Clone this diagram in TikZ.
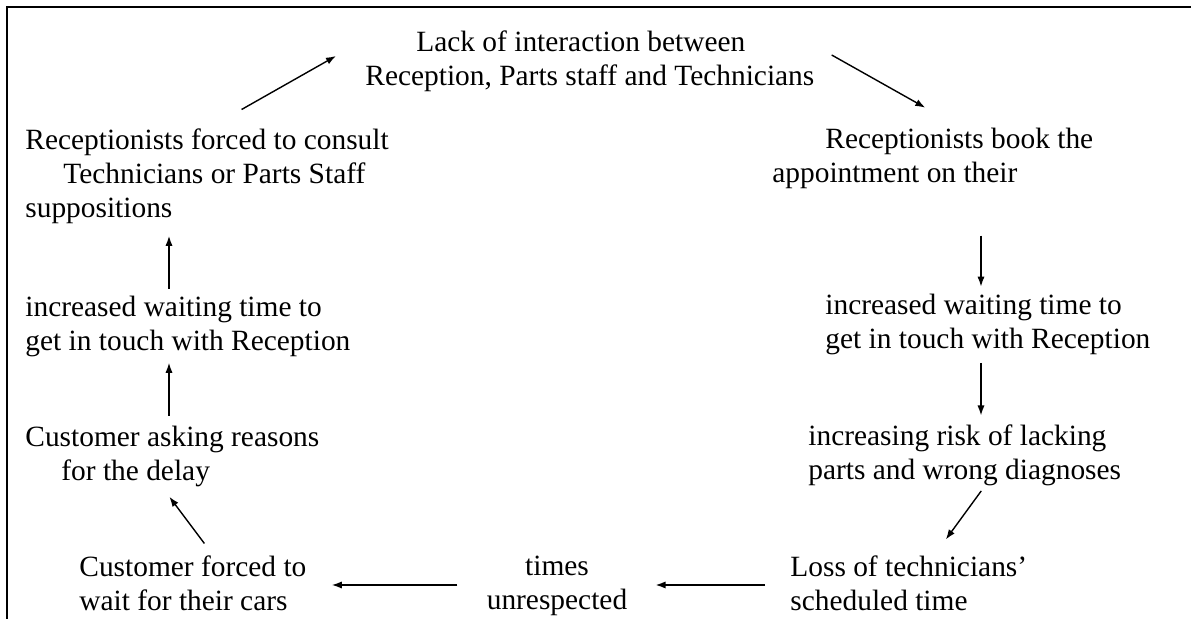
\documentclass[tikz,border=0pt]{standalone}
\usepackage{fontspec}
\setmainfont{Liberation Serif}
\usetikzlibrary{arrows.meta}
\begin{document}
\begin{tikzpicture}[x=0.5pt,y=-0.5pt,
  cause/.style={inner sep=0pt,align=left,font=\fontsize{14.7}{17}\selectfont},
  link/.style={line width=0.7pt,-{Latex[length=5pt,width=3.6pt]}}]
\useasboundingbox (0,0) rectangle (1191,619);
\draw[line width=1pt] (7,619) -- (7,7) -- (1191,7);
% the causes, clockwise from the top
\node[cause,anchor=west] (lack) at (365,61) {\hspace*{25.5pt}Lack of interaction between\\Reception, Parts staff and Technicians};
\node[cause,anchor=west] (book) at (772,158) {\hspace*{26.5pt}Receptionists book the\\appointment on their};
\node[cause,anchor=west] (waitR) at (825,324) {increased waiting time to\\get in touch with Reception};
\node[cause,anchor=west] (risk) at (808,455) {increasing risk of lacking\\parts and wrong diagnoses};
\node[cause,anchor=west] (loss) at (790,583) {Loss of technicians’\\scheduled time};
\node[cause,align=center] (times) at (557,586) {times\\unrespected};
\node[cause,anchor=west] (forced) at (79,583) {Customer forced to\\wait for their cars};
\node[cause,anchor=west] (asking) at (25,456) {Customer asking reasons\\\hspace*{18pt}for the delay};
\node[cause,anchor=west] (waitL) at (25,326) {increased waiting time to\\get in touch with Reception};
\node[cause,anchor=west] (consult) at (25,176) {Receptionists forced to consult\\\hspace*{19pt}Technicians or Parts Staff\\suppositions};
% columns and row the straight arrows keep to
\coordinate (colL) at (169,0);
\coordinate (colR) at (981,0);
\coordinate (rowB) at (0,585);
% the loop
\draw[link] ([xshift=17.25pt,yshift=9.3pt]consult.north) -- ([xshift=-14.5pt,yshift=2.5pt]lack.west);
\draw[link] ([xshift=8.5pt,yshift=3pt]lack.east) -- ([xshift=-3.75pt,yshift=9.8pt]book.north);
\draw[link,shorten <=23.5pt,shorten >=3.3pt] (book.south -| colR) -- (waitR.north -| colR);
\draw[link,shorten <=4pt,shorten >=4.3pt] (waitR.south -| colR) -- (risk.north -| colR);
\draw[link] ([xshift=8.25pt,yshift=-2.5pt]risk.south) -- ([xshift=18.5pt,yshift=7.8pt]loss.north);
\draw[link,shorten <=12.5pt,shorten >=14pt] (loss.west |- rowB) -- (times.east |- rowB);
\draw[link,shorten <=14.5pt,shorten >=12.5pt] (times.west |- rowB) -- (forced.east |- rowB);
\draw[link] ([xshift=5.75pt,yshift=5.8pt]forced.north) -- ([xshift=-1.5pt,yshift=-5pt]asking.south);
\draw[link,shorten <=4.8pt,shorten >=3pt] (asking.north -| colL) -- (waitL.south -| colL);
\draw[link,shorten <=3.3pt,shorten >=6pt] (waitL.north -| colL) -- (consult.south -| colL);
\end{tikzpicture}
\end{document}
